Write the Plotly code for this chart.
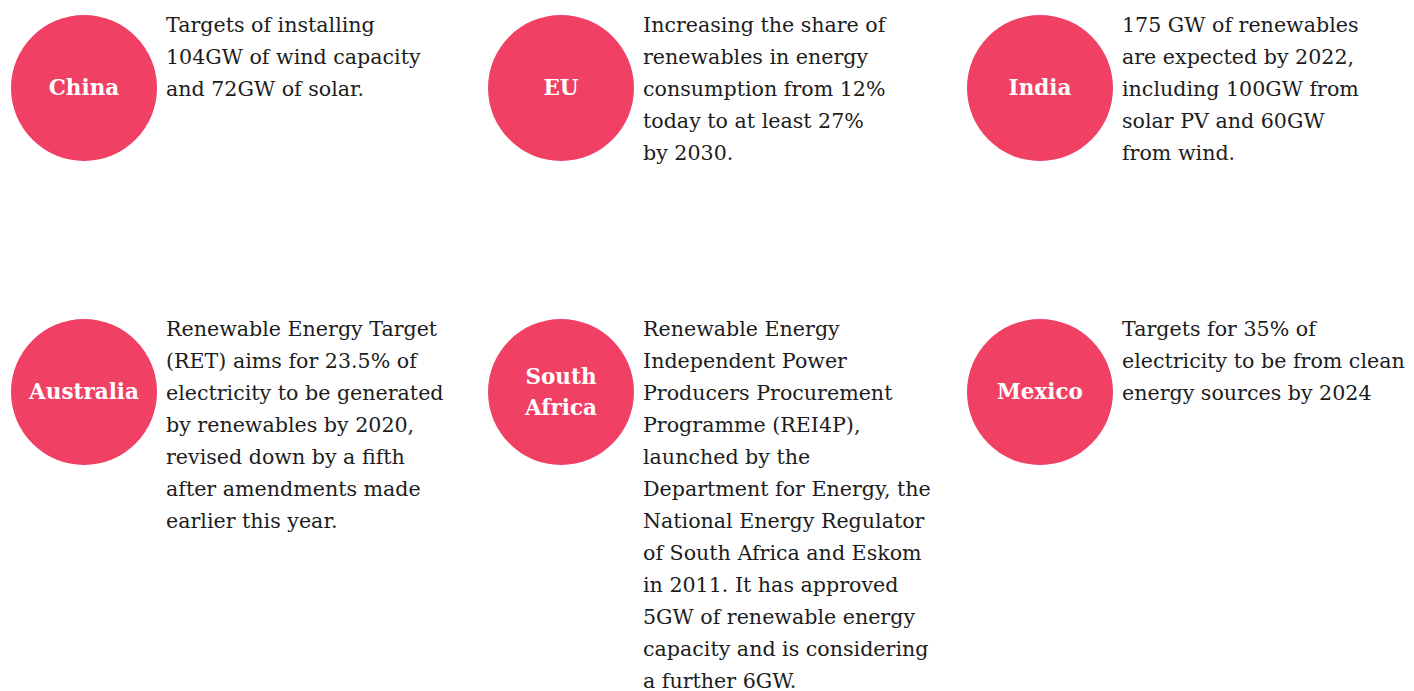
import plotly.graph_objects as go

# countries and their renewable targets, one list entry per printed line
countries = ["China", "EU", "India", "Australia", "South Africa", "Mexico"]
country_labels = [["China"], ["EU"], ["India"], ["Australia"], ["South", "Africa"], ["Mexico"]]
descriptions = [
    ["Targets of installing", "104GW of wind capacity", "and 72GW of solar."],
    ["Increasing the share of", "renewables in energy", "consumption from 12%",
     "today to at least 27%", "by 2030."],
    ["175 GW of renewables", "are expected by 2022,", "including 100GW from",
     "solar PV and 60GW", "from wind."],
    ["Renewable Energy Target", "(RET) aims for 23.5% of", "electricity to be generated",
     "by renewables by 2020,", "revised down by a fifth", "after amendments made",
     "earlier this year."],
    ["Renewable Energy", "Independent Power", "Producers Procurement",
     "Programme (REI4P),", "launched by the", "Department for Energy, the",
     "National Energy Regulator", "of South Africa and Eskom",
     "in 2011. It has approved", "5GW of renewable energy",
     "capacity and is considering", "a further 6GW."],
    ["Targets for 35% of", "electricity to be from clean", "energy sources by 2024"],
]

W, H = 1414, 691
PAD = 8                      # page body margin, so axis units = screen pixels
PINK = "#F04064"
TEXT = "#1c1c1c"
col_x = [84, 561, 1040]      # circle centres
row_y = [88, 392]
line_h = 32

fig = go.Figure()

cx, cy = [], []
for i, name in enumerate(countries):
    cx.append(col_x[i % 3])
    cy.append(row_y[i // 3])

# circles
fig.add_trace(go.Scatter(
    x=cx, y=cy, mode="markers",
    marker=dict(size=146, color=PINK, line=dict(width=0)),
    hovertext=countries, hoverinfo="text", showlegend=False, cliponaxis=False,
))

# country names inside circles
lx, ly, lt = [], [], []
for i, lines in enumerate(country_labels):
    n = len(lines)
    for k, t in enumerate(lines):
        lx.append(cx[i])
        ly.append(cy[i] + 2 + (k - (n - 1) / 2) * 31)
        lt.append("<b>%s</b>" % t)
fig.add_trace(go.Scatter(
    x=lx, y=ly, mode="text", text=lt, textposition="middle center",
    textfont=dict(family="DejaVu Serif", size=21.5, color="white"),
    hoverinfo="skip", showlegend=False, cliponaxis=False,
))

# description blocks
for i, lines in enumerate(descriptions):
    x0 = cx[i] + 82
    y0 = cy[i] - 61
    fig.add_trace(go.Scatter(
        x=[x0] * len(lines),
        y=[y0 + k * line_h for k in range(len(lines))],
        mode="text", text=lines, textposition="middle right",
        textfont=dict(family="DejaVu Serif", size=20.6, color=TEXT),
        hoverinfo="skip", showlegend=False, cliponaxis=False,
    ))

fig.update_layout(
    width=W - PAD, height=H,
    margin=dict(l=0, r=0, t=0, b=0),
    paper_bgcolor="white", plot_bgcolor="white",
    xaxis=dict(range=[PAD, W], visible=False, fixedrange=True),
    yaxis=dict(range=[H + PAD, PAD], visible=False, fixedrange=True),
)

fig.write_html("out.html", config={"displayModeBar": False})
